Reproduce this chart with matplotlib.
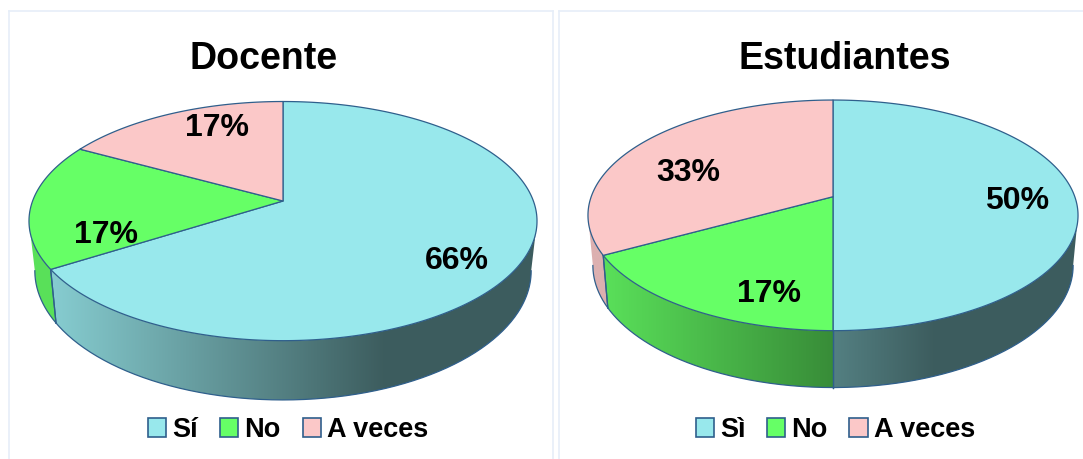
import numpy as np
import matplotlib
matplotlib.use("Agg")
import matplotlib.pyplot as plt
from matplotlib.patches import Patch, Polygon

plt.rcParams['font.family'] = ['Liberation Sans', 'DejaVu Sans']

# ---------- data ----------
titles = ["Docente", "Estudiantes"]
docente_values = [66, 17, 17]
estudiantes_values = [50, 17, 33]
docente_labels = ["Sí", "No", "A veces"]
estudiantes_labels = ["Sì", "No", "A veces"]

# ---------- style ----------
colors = ["#98E8EC", "#66FF66", "#FBC8C8"]
edge = "#2F5F8C"
panel_edge = "#E6EEF8"
W, H = 1083, 459

charts = [
    dict(values=docente_values, labels=docente_labels, title=titles[0],
         box=(8.5, 11, 553, 459), cx=283, cy=201, A=250.4, B=116.2, k=0.168,
         sx=0.977, sy=1.08, cy2=249.1, title_x=264,
         label_xy=[(457, 261), (106, 235), (217, 128)],
         leg=(147.5, 430), colsp=0.82),
    dict(values=estudiantes_values, labels=estudiantes_labels, title=titles[1],
         box=(558.5, 11, 1083, 459), cx=833, cy=196.7, A=241.8, B=112.3, k=0.1617,
         sx=0.98, sy=1.058, cy2=245.8, title_x=844.4,
         label_xy=[(1017, 201), (769, 294), (688, 173)],
         leg=(695.5, 430), colsp=0.8),
]


def rim(c, theta, lower=False):
    """Perspective projection of a circle point; theta is clockwise from the top."""
    u, v = np.sin(theta), np.cos(theta)
    w = 1 + c['k'] * v
    x, y = c['A'] * u / w, c['B'] * v / w
    if lower:
        return c['cx'] + c['sx'] * x, c['cy2'] - c['sy'] * y
    return c['cx'] + x, c['cy'] - y


def shade(rel):
    """Brightness of the side wall against horizontal position."""
    return np.interp(rel, [-230, 0, 100], [0.88, 0.55, 0.40])


fig = plt.figure(figsize=(W / 100, H / 100), dpi=100, facecolor="white")

for c in charts:
    x0, y0, x1, y1 = c['box']
    ax = fig.add_axes([x0 / W, 1 - y1 / H, (x1 - x0) / W, (y1 - y0) / H])
    ax.set_xticks([])
    ax.set_yticks([])
    for name, sp in ax.spines.items():
        sp.set_color(panel_edge)
        sp.set_linewidth(1.2)
    ax.spines['bottom'].set_visible(False)
    if x1 >= W:
        ax.spines['right'].set_visible(False)

    vals = np.array(c['values'], dtype=float)
    edges = np.concatenate([[0], np.cumsum(vals)]) / vals.sum() * 2 * np.pi

    # the wall is visible only below the widest point of the rim
    vis0 = np.arccos(-c['k'])
    vis1 = 2 * np.pi - vis0
    for i, col in enumerate(colors):
        a, b = max(edges[i], vis0), min(edges[i + 1], vis1)
        if b <= a:
            continue
        t = np.linspace(a, b, 200)
        xt, yt = rim(c, t)
        xb, yb = rim(c, t, lower=True)
        xs = np.linspace(min(xt.min(), xb.min()) - 1, max(xt.max(), xb.max()) + 1, 400)
        base = np.array(matplotlib.colors.to_rgb(col))
        grad = (shade(xs - c['cx'])[:, None] * base)[None, :, :]
        poly = Polygon(np.c_[np.r_[xt, xb[::-1]], np.r_[yt, yb[::-1]]], closed=True,
                       facecolor='none', edgecolor='none', transform=ax.transData)
        ax.add_patch(poly)
        im = ax.imshow(grad, extent=(xs[0], xs[-1], max(yb.max(), yt.max()) + 1, min(yb.min(), yt.min()) - 1),
                       aspect='auto', interpolation='bilinear', zorder=2)
        im.set_clip_path(poly)
        ax.plot(xb, yb, color=edge, lw=0.9, zorder=3)
        if a == edges[i]:
            ax.plot([xt[0], xb[0]], [yt[0], yb[0]], color=edge, lw=0.9, zorder=3)
        if b == edges[i + 1]:
            ax.plot([xt[-1], xb[-1]], [yt[-1], yb[-1]], color=edge, lw=0.9, zorder=3)

    for i, col in enumerate(colors):
        t = np.linspace(edges[i], edges[i + 1], 240)
        xt, yt = rim(c, t)
        ax.fill(np.r_[c['cx'], xt], np.r_[c['cy'], yt], facecolor=col, edgecolor=edge, lw=0.9,
                joinstyle='round', zorder=4)
        lx, ly = c['label_xy'][i]
        ax.text(lx, ly, f"{c['values'][i]}%", fontsize=23, fontweight='bold', color='black',
                ha='center', va='center', zorder=5)

    ax.set_xlim(x0, x1)
    ax.set_ylim(y1, y0)

    ax.set_title(c['title'], fontsize=27, fontweight='bold', color='black', pad=0,
                 x=(c['title_x'] - x0) / (x1 - x0), y=1 - (69 - y0) / (y1 - y0))

    handles = [Patch(facecolor=col, edgecolor=edge, lw=1.2, label=lab)
               for col, lab in zip(colors, c['labels'])]
    lx, ly = c['leg']
    ax.legend(handles=handles, ncol=3, frameon=False, loc='center left',
              bbox_to_anchor=(lx, ly), bbox_transform=ax.transData,
              prop=dict(size=19.5, weight='bold'), borderpad=0, borderaxespad=0,
              handlelength=0.68, handleheight=0.68, handletextpad=0.22, columnspacing=c['colsp'])

fig.savefig("out.png", dpi=100, facecolor="white")
